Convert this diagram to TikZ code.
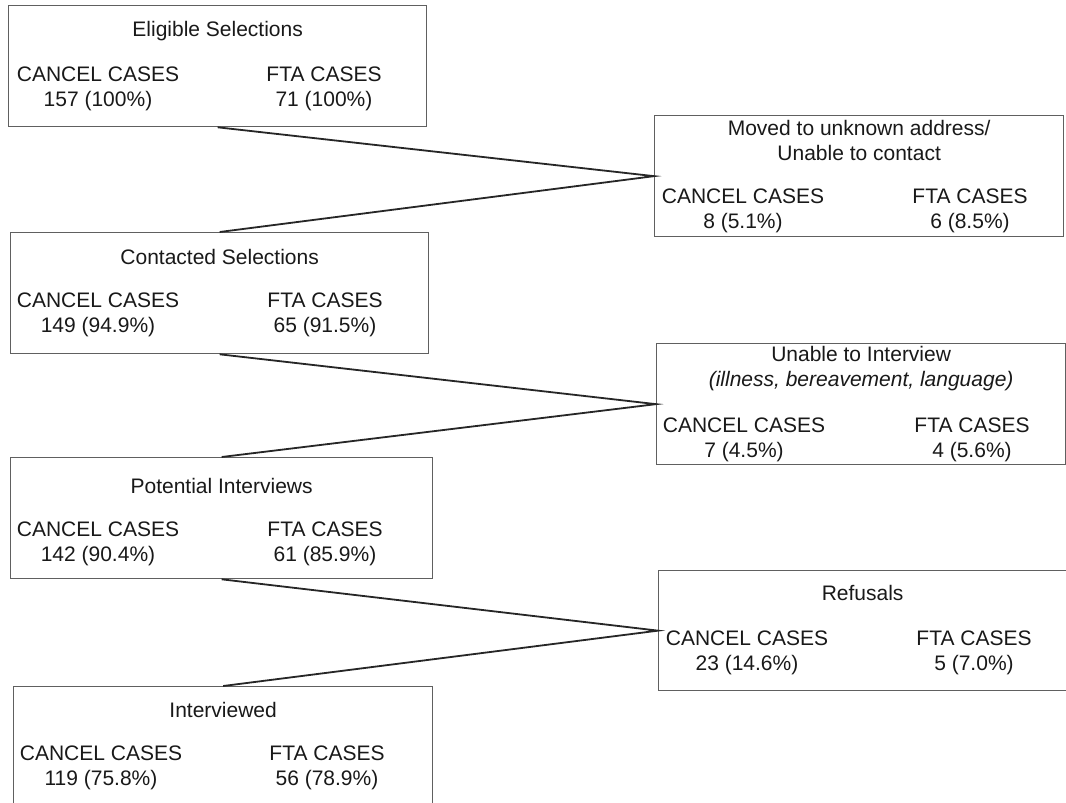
\documentclass[tikz,border=0pt]{standalone}
\usepackage{fontspec}
\setmainfont{Liberation Sans}
\usetikzlibrary{positioning,calc}

\begin{document}
\begin{tikzpicture}[x=1pt, y=-1pt,
    box/.style={draw=gray!75!black, line width=1.3pt, anchor=north west,
        minimum width=418pt, minimum height=121pt, inner sep=0pt},
    side/.style={box, minimum width=409pt},
    head/.style={font=\fontsize{21}{25}\selectfont, align=center, inner sep=0pt, text=black!90},
    link/.style={line width=1.8pt, draw=black!85}]
    \fill[white] (0,0) rectangle (1066,803);
    \useasboundingbox (0,0) rectangle (1066,803);

    % --- Left column: stages of the sample ---
    \node[box] (elig) at (8,5) {};
    \node[head] (eligT) at ($(elig.north)+(0,26)$) {Eligible Selections};
    \node[head] (eligC) at ($(elig.north west)+(90,84)$) {CANCEL CASES\\157 (100\%)};
    \node[head] (eligF) at ($(elig.north west)+(316,84)$) {FTA CASES\\71 (100\%)};

    \node[box] (contact) at (10,232) {};
    \node[head] (contactT) at ($(contact.north)+(0,25)$) {Contacted Selections};
    \node[head] (contactC) at ($(contact.north west)+(88,83)$) {CANCEL CASES\\149 (94.9\%)};
    \node[head] (contactF) at ($(contact.north west)+(315,83)$) {FTA CASES\\65 (91.5\%)};

    \node[box, minimum width=422pt] (potential) at (10,457) {};
    \node[head] (potentialT) at ($(potential.north)+(0,29)$) {Potential Interviews};
    \node[head] (potentialC) at ($(potential.north west)+(88,87)$) {CANCEL CASES\\142 (90.4\%)};
    \node[head] (potentialF) at ($(potential.north west)+(315,87)$) {FTA CASES\\61 (85.9\%)};

    \node[box, minimum width=419pt, minimum height=125pt] (interv) at (13,686) {};
    \node[head] (intervT) at ($(interv.north)+(0,24)$) {Interviewed};
    \node[head] (intervC) at ($(interv.north west)+(88,82)$) {CANCEL CASES\\119 (75.8\%)};
    \node[head] (intervF) at ($(interv.north west)+(314,82)$) {FTA CASES\\56 (78.9\%)};

    % --- Right column: losses ---
    \node[side] (moved) at (654,115) {};
    \node[head] (movedT) at ($(moved.north)+(0,25)$) {Moved to unknown address/\\Unable to contact};
    \node[head] (movedC) at ($(moved.north west)+(89,96)$) {CANCEL CASES\\8 (5.1\%)};
    \node[head] (movedF) at ($(moved.north west)+(316,96)$) {FTA CASES\\6 (8.5\%)};

    \node[side] (unable) at (656,343) {};
    \node[head] (unableT) at ($(unable.north)+(0,26)$) {Unable to Interview\\\textit{(illness, bereavement, language)}};
    \node[head] (unableC) at ($(unable.north west)+(88,97)$) {CANCEL CASES\\7 (4.5\%)};
    \node[head] (unableF) at ($(unable.north west)+(316,97)$) {FTA CASES\\4 (5.6\%)};

    \node[side, minimum width=408pt, minimum height=120pt] (refuse) at (658,570) {};
    \node[head] (refuseT) at ($(refuse.north)+(0,23)$) {Refusals};
    \node[head] (refuseC) at ($(refuse.north west)+(89,83)$) {CANCEL CASES\\23 (14.6\%)};
    \node[head] (refuseF) at ($(refuse.north west)+(316,83)$) {FTA CASES\\5 (7.0\%)};

    % --- Connectors ---
    \draw[link] (elig.south) -- (moved.west) -- (contact.north);
    \draw[link] (contact.south) -- (unable.west) -- (potential.north);
    \draw[link] (potential.south) -- (refuse.west) -- (interv.north);
\end{tikzpicture}
\end{document}
